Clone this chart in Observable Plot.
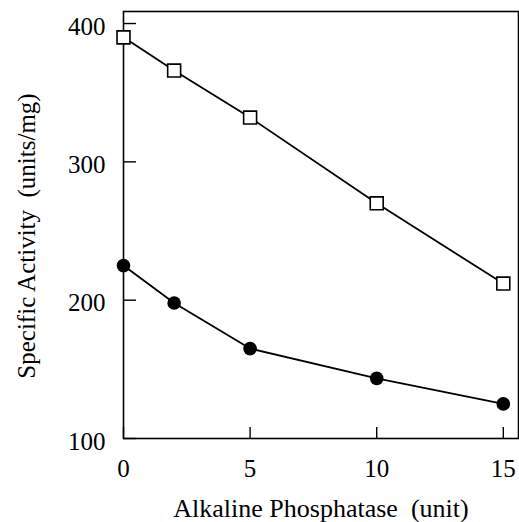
<!DOCTYPE html>
<html><head><meta charset="utf-8">
<script src="https://cdn.jsdelivr.net/npm/d3@7"></script>
<script src="https://cdn.jsdelivr.net/npm/@observablehq/plot@0.6"></script>
<style>body{margin:0;background:#fff} svg{display:block}</style>
</head><body><div id="chart"></div>
<script>
const xUnits = [0, 2, 5, 10, 15];
const squareVals = [390, 366, 332, 270, 212];
const circleVals = [225, 198, 165, 143.5, 125];
const xTicks = [0, 5, 10, 15];
const yTicks = [100, 200, 300, 400];
const xLabel = "Alkaline Phosphatase  (unit)";
const yLabel = "Specific Activity  (units/mg)";

const squares = xUnits.map((x, i) => ({x, y: squareVals[i]}));
const circles = xUnits.map((x, i) => ({x, y: circleVals[i]}));

const chart = Plot.plot({
  width: 519, height: 522,
  marginLeft: 123, marginRight: 1, marginTop: 11, marginBottom: 84,
  style: {fontFamily: "'Liberation Serif', 'Times New Roman', serif", fontSize: "25px", color: "#000", background: "#fff"},
  x: {domain: [0, 15.6]},
  y: {domain: [100, 408.7]},
  marks: [
    Plot.frame({stroke: "#000", strokeWidth: 1.6}),
    Plot.axisX(xTicks, {tickSize: -11, tickFormat: () => "", strokeWidth: 1.4, label: null}),
    Plot.axisX(xTicks, {tickSize: 0, tickPadding: 21, label: null, fontSize: 25}),
    Plot.axisY(yTicks, {tickSize: -13, tickFormat: () => "", strokeWidth: 1.4, label: null}),
    Plot.axisY(yTicks, {tickSize: 0, tickPadding: 18, dy: 3, label: null, fontSize: 25}),
    Plot.line(squares, {x: "x", y: "y", stroke: "#000", strokeWidth: 1.8}),
    Plot.line(circles, {x: "x", y: "y", stroke: "#000", strokeWidth: 1.8}),
    Plot.dot(squares, {x: "x", y: "y", symbol: "square", r: 7.3, fill: "#fff", stroke: "#000", strokeWidth: 1.6}),
    Plot.dot(circles, {x: "x", y: "y", r: 6.8, fill: "#000", stroke: "none"}),
    Plot.text([xLabel], {text: d => d, frameAnchor: "bottom", textAnchor: "middle", dy: 78, lineAnchor: "bottom", fontSize: 26, fill: "#000"}),
    Plot.text([yLabel], {text: d => d, frameAnchor: "left", textAnchor: "middle", rotate: -90, dx: -89, dy: 11, lineAnchor: "bottom", fontSize: 25, fill: "#000"})
  ]
});
document.getElementById("chart").append(chart);
</script>
</body></html>
